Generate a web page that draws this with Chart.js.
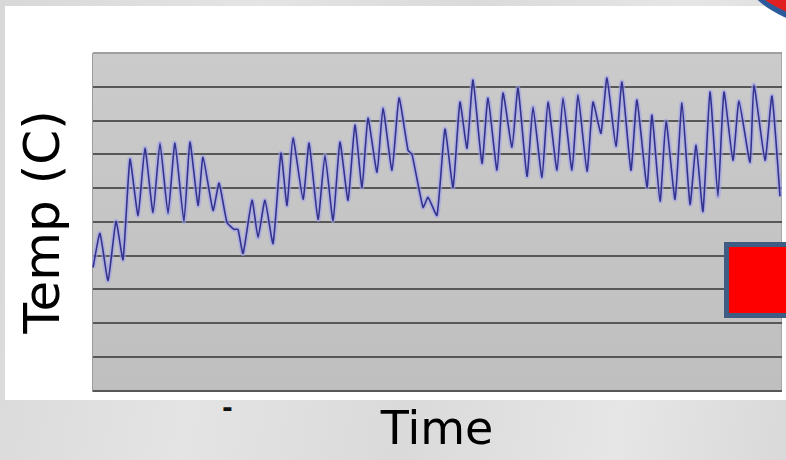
<!DOCTYPE html>
<html>
<head>
<meta charset="utf-8">
<script src="https://cdn.jsdelivr.net/npm/chart.js@4/dist/chart.umd.min.js"></script>
<style>
    html, body { margin: 0; padding: 0; }
    body {
        width: 786px; height: 460px; overflow: hidden; position: relative;
        background: linear-gradient(100deg, #d8d8d8 0%, #e4e4e4 30%, #dadada 55%, #e6e6e6 80%, #d9d9d9 100%);
    }
    #panel { position: absolute; left: 5px; top: 6px; width: 781px; height: 394px; background: #fff; }
    #swoosh { position: absolute; left: 738px; top: -26px; width: 80px; height: 34px;
              background: #e02020; border-bottom: 6px solid #2d5a9a; border-radius: 0 0 0 80%;
              transform: rotate(20deg); }
    #dash { position: absolute; left: 222px; top: 393px; font: bold 26px "DejaVu Sans", sans-serif; color: #111; }
    #marker { position: absolute; left: 724px; top: 242px; width: 62px; height: 76px; box-sizing: border-box;
              background: #ff0000; border: 5px solid #3e5c84; border-right: none; }
    #chart1 { position: absolute; left: 0; top: 0; }
</style>
</head>
<body>
<div id="panel"></div>
<div id="swoosh"></div>
<span id="dash">-</span>
<canvas id="chart1" width="786" height="460"></canvas>
<div id="marker"></div>
<script>
// time in days, temperature readings
const timeDays = [0.07, 0.53, 1.07, 1.6, 2.07, 2.53, 3.07, 3.53, 4.07, 4.53,
    5.07, 5.53, 6.13, 6.53, 7.07, 7.4, 8.07, 8.47, 9.0, 9.47,
    9.73, 10.07, 10.67, 11.07, 11.53, 12.07, 12.6, 13.0, 13.4, 14.07,
    14.47, 15.07, 15.53, 16.07, 16.53, 17.07, 17.53, 18.0, 18.4, 19.0,
    19.4, 20.0, 20.47, 21.07, 21.33, 22.07, 22.4, 23.0, 23.53, 24.07,
    24.53, 25.0, 25.4, 26.0, 26.4, 27.0, 27.4, 28.0, 28.4, 29.0,
    29.4, 30.0, 30.4, 31.0, 31.4, 32.0, 32.4, 33.0, 33.4, 33.93,
    34.33, 34.93, 35.33, 35.93, 36.33, 37.0, 37.33, 37.87, 38.27, 38.87,
    39.33, 39.87, 40.27, 40.73, 41.2, 41.73, 42.13, 42.73, 43.13, 43.87,
    44.13, 44.87, 45.33, 45.87];

const temps = [7.30, 9.32, 6.53, 10.03, 7.77, 13.71, 10.39, 14.36, 10.56, 14.66,
    10.50, 14.66, 10.03, 14.72, 10.98, 13.83, 10.68, 12.29, 9.97, 9.56,
    9.56, 8.13, 11.28, 9.08, 11.28, 8.72, 14.07, 10.98, 14.96, 11.34,
    14.66, 10.15, 13.95, 10.09, 14.72, 11.28, 15.73, 12.05, 16.14, 12.94,
    16.74, 13.06, 17.33, 14.24, 14.01, 10.86, 11.45, 10.39, 15.49, 12.05,
    17.09, 14.36, 18.40, 13.47, 17.33, 13.06, 17.63, 14.42, 17.92, 12.70,
    16.80, 12.64, 17.09, 13.06, 17.33, 13.06, 17.51, 13.00, 17.09, 15.25,
    18.52, 14.48, 18.28, 13.06, 17.21, 12.05, 16.32, 11.22, 15.97, 11.34,
    17.03, 11.04, 14.54, 10.62, 17.69, 11.51, 17.69, 13.65, 17.15, 13.53,
    18.10, 13.65, 17.45, 11.51];

const timeRange = [0, 46];
const tempRange = [0, 20];
const tempStep = 2;

document.addEventListener('DOMContentLoaded', function() {
    const points = timeDays.map((t, i) => ({ x: t, y: temps[i] }));

    // grey plot background, like the old spreadsheet chart
    const plotBackground = {
        id: 'plotBackground',
        beforeDraw(chart) {
            const { ctx, chartArea: a } = chart;
            const grad = ctx.createLinearGradient(0, a.top, 0, a.bottom);
            grad.addColorStop(0, '#cbcbcb');
            grad.addColorStop(1, '#bfbfbf');
            ctx.save();
            ctx.fillStyle = grad;
            ctx.fillRect(a.left, a.top, a.right - a.left, a.bottom - a.top);
            ctx.strokeStyle = '#a8a8a8';
            ctx.lineWidth = 1;
            ctx.beginPath();
            ctx.moveTo(a.right - 0.5, a.top);
            ctx.lineTo(a.right - 0.5, a.bottom);
            ctx.stroke();
            ctx.restore();
        }
    };

    const ctx = document.getElementById('chart1').getContext('2d');
    new Chart(ctx, {
        type: 'line',
        data: {
            datasets: [{
                label: 'Temp',
                data: points,
                borderColor: '#33338f',
                borderWidth: 1.6,
                pointRadius: 0,
                tension: 0.15,
                order: 0
            }, {
                label: 'glow',
                data: points,
                borderColor: 'rgba(160, 160, 235, 0.6)',
                borderWidth: 5,
                pointRadius: 0,
                tension: 0.15,
                order: 1
            }]
        },
        options: {
            responsive: false,
            animation: false,
            layout: { padding: { top: 53, right: 4, bottom: 0, left: 16 } },
            plugins: {
                legend: { display: false },
                tooltip: { enabled: false }
            },
            scales: {
                x: {
                    type: 'linear',
                    min: timeRange[0],
                    max: timeRange[1],
                    grid: { display: false, drawTicks: false },
                    border: { display: false },
                    ticks: { display: false },
                    title: {
                        display: true,
                        text: 'Time',
                        color: '#000',
                        font: { family: 'DejaVu Sans', size: 46 },
                        padding: { top: 14, bottom: 0 }
                    }
                },
                y: {
                    min: tempRange[0],
                    max: tempRange[1],
                    grid: {
                        drawTicks: false,
                        lineWidth: 2,
                        color: c => c.tick && c.tick.value === tempRange[1] ? '#a0a0a0' : '#575757'
                    },
                    border: { display: true, color: '#9c9c9c', width: 1 },
                    ticks: { display: false, stepSize: tempStep },
                    title: {
                        display: true,
                        text: 'Temp (C)',
                        color: '#000',
                        font: { family: 'DejaVu Sans', size: 50 },
                        padding: { top: 0, bottom: 16 }
                    }
                }
            }
        },
        plugins: [plotBackground]
    });
});
</script>
</body>
</html>
